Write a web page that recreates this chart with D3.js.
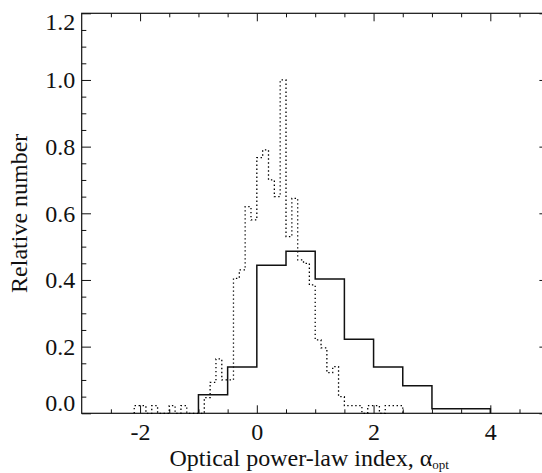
<!DOCTYPE html>
<html>
<head>
<meta charset="utf-8">
<script src="https://cdn.jsdelivr.net/npm/d3@7"></script>
<style>
  html, body { margin: 0; padding: 0; background: #fff; }
  svg { display: block; }
  text { font-family: "Liberation Serif", "Times New Roman", serif; fill: #111; }
</style>
</head>
<body>
<svg id="chart" width="542" height="473"></svg>
<script>
// ---- data ----
const xMajorTicks = [-2, 0, 2, 4];
const xMinorTicks = [-2.5, -1.5, -1, -0.5, 0.5, 1, 1.5, 2.5, 3, 3.5, 4.5];
const yMajorTicks = [0.0, 0.2, 0.4, 0.6, 0.8, 1.0, 1.2];
const yMinorTicks = [0.05, 0.1, 0.15, 0.25, 0.3, 0.35, 0.45, 0.5, 0.55, 0.65, 0.7, 0.75, 0.85, 0.9, 0.95, 1.05, 1.1, 1.15];

// solid histogram: bin left edges (width 0.5) and relative numbers
const solidBins   = [-1.0, -0.5, 0.0, 0.5, 1.0, 1.5, 2.0, 2.5, 3.0, 3.5];
const solidValues = [0.056, 0.139, 0.444, 0.486, 0.403, 0.222, 0.139, 0.083, 0.014, 0.014];
const solidWidth = 0.5;

// dotted histogram: bin left edges (width 0.1) and relative numbers
const dottedBins = [-2.1, -2.0, -1.9, -1.8, -1.7, -1.6, -1.5, -1.4, -1.3, -1.2, -1.1, -1.0,
  -0.9, -0.8, -0.7, -0.6, -0.5, -0.4, -0.3, -0.2, -0.1, 0.0, 0.1, 0.2, 0.3, 0.4, 0.5,
  0.6, 0.7, 0.8, 0.9, 1.0, 1.1, 1.2, 1.3, 1.4, 1.5, 1.6, 1.7, 1.8, 1.9, 2.0, 2.1, 2.2, 2.3, 2.4];
const dottedValues = [0.023, 0.023, 0.0, 0.023, 0.0, 0.0, 0.023, 0.0, 0.023, 0.0, 0.0, 0.0,
  0.047, 0.093, 0.163, 0.100, 0.100, 0.405, 0.430, 0.620, 0.580, 0.767, 0.790, 0.700, 0.650, 1.000, 0.530,
  0.645, 0.460, 0.450, 0.385, 0.220, 0.196, 0.122, 0.140, 0.050, 0.023, 0.023, 0.023, 0.0, 0.023, 0.023, 0.0, 0.023, 0.023, 0.023];
const dottedWidth = 0.1;

const xTitle = "Optical power-law index, ";
const xTitleGreek = "α";
const xTitleSub = "opt";
const yTitle = "Relative number";

// ---- layout ----
const svg = d3.select("#chart");
const pLeft = 81.7, pRight = 548.7, pTop = 13.3, pBottom = 413.3;
const x = d3.scaleLinear().domain([-3, 5]).range([pLeft, pRight]);
const y = d3.scaleLinear().domain([0, 1.2]).range([pBottom, pTop]);
const fontSize = 24;
const xMajLen = 8, xMinLen = 4, yMajLen = 9.3, yMinLen = 4.6;

function styleAxis(g) {
  g.select(".domain").remove();
  g.selectAll(".tick line").attr("stroke", "#111").attr("stroke-width", 1);
  g.selectAll("text").style("font-family", '"Liberation Serif", "Times New Roman", serif')
    .style("font-size", fontSize + "px").attr("fill", "#111");
}

// bottom axis
svg.append("g").attr("transform", `translate(0,${pBottom})`)
  .call(d3.axisBottom(x).tickValues(xMajorTicks).tickSize(-xMajLen).tickPadding(10).tickFormat(d => String(d)))
  .call(styleAxis);
svg.append("g").attr("transform", `translate(0,${pBottom})`)
  .call(d3.axisBottom(x).tickValues(xMinorTicks).tickSize(-xMinLen).tickFormat(""))
  .call(styleAxis);
// top axis
svg.append("g").attr("transform", `translate(0,${pTop})`)
  .call(d3.axisTop(x).tickValues(xMajorTicks).tickSize(-xMajLen).tickFormat(""))
  .call(styleAxis);
svg.append("g").attr("transform", `translate(0,${pTop})`)
  .call(d3.axisTop(x).tickValues(xMinorTicks).tickSize(-xMinLen).tickFormat(""))
  .call(styleAxis);
// left axis
const leftAxis = svg.append("g").attr("transform", `translate(${pLeft},0)`)
  .call(d3.axisLeft(y).tickValues(yMajorTicks).tickSize(-yMajLen).tickPadding(6.5).tickFormat(d3.format(".1f")))
  .call(styleAxis);
leftAxis.selectAll(".tick text").attr("dy", d => d === 0 ? "-0.12em" : (d === 1.2 ? "0.67em" : "0.33em"));
svg.append("g").attr("transform", `translate(${pLeft},0)`)
  .call(d3.axisLeft(y).tickValues(yMinorTicks).tickSize(-yMinLen).tickFormat(""))
  .call(styleAxis);
// right axis
svg.append("g").attr("transform", `translate(${pRight},0)`)
  .call(d3.axisRight(y).tickValues(yMajorTicks).tickSize(-yMajLen).tickFormat(""))
  .call(styleAxis);
svg.append("g").attr("transform", `translate(${pRight},0)`)
  .call(d3.axisRight(y).tickValues(yMinorTicks).tickSize(-yMinLen).tickFormat(""))
  .call(styleAxis);

// frame
svg.append("rect").attr("x", pLeft).attr("y", pTop)
  .attr("width", pRight - pLeft).attr("height", pBottom - pTop)
  .attr("fill", "none").attr("stroke", "#111").attr("stroke-width", 1.2);

// histogram step paths
function stepPoints(bins, values, w) {
  const pts = [[bins[0], 0]];
  bins.forEach((b, i) => pts.push([b, values[i]]));
  const lastEdge = bins[bins.length - 1] + w;
  pts.push([lastEdge, values[values.length - 1]]);
  pts.push([lastEdge, 0]);
  return pts;
}
const line = d3.line().x(d => x(d[0])).y(d => y(d[1])).curve(d3.curveStepAfter);

svg.append("path")
  .attr("d", line(stepPoints(dottedBins, dottedValues, dottedWidth)))
  .attr("fill", "none").attr("stroke", "#000").attr("stroke-width", 1.3)
  .attr("stroke-dasharray", "1.4,2.6");

svg.append("path")
  .attr("d", line(stepPoints(solidBins, solidValues, solidWidth)))
  .attr("fill", "none").attr("stroke", "#111").attr("stroke-width", 1.5);

// titles
const xt = svg.append("text")
  .attr("x", (pLeft + pRight) / 2 - 6).attr("y", 466)
  .attr("text-anchor", "middle")
  .style("font-size", fontSize + "px");
xt.append("tspan").text(xTitle);
xt.append("tspan").text(xTitleGreek);
xt.append("tspan").text(xTitleSub).attr("dy", 3).style("font-size", "13px");

svg.append("text")
  .attr("transform", `translate(26.5,${(pTop + pBottom) / 2}) rotate(-90)`)
  .attr("text-anchor", "middle")
  .style("font-size", fontSize + "px")
  .text(yTitle);
</script>
</body>
</html>
